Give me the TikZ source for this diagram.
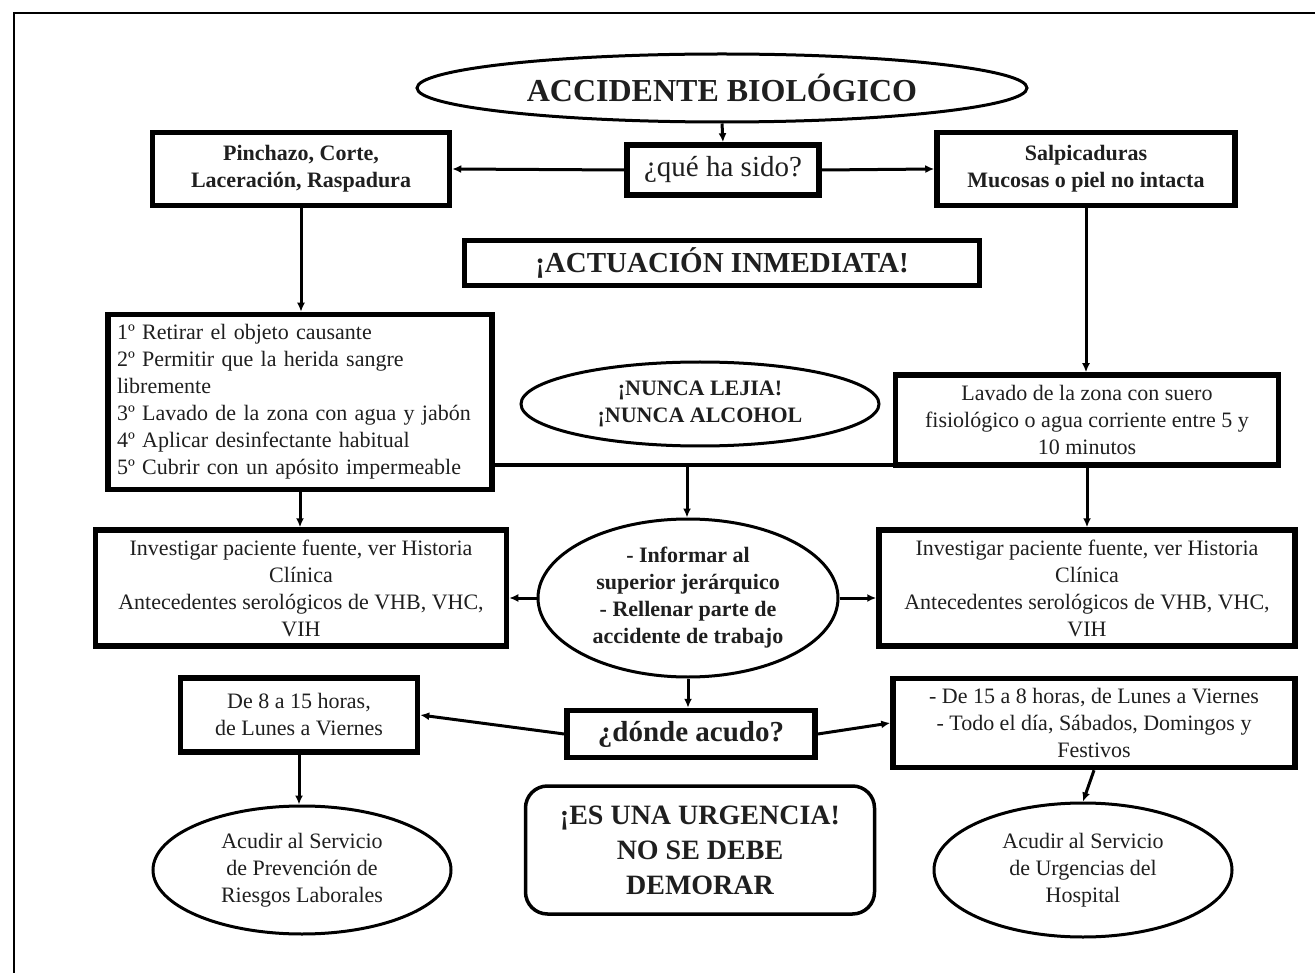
\documentclass[tikz,border=0pt]{standalone}
\usepackage{fontspec}
\setmainfont{Liberation Serif}
\usetikzlibrary{shapes.geometric,arrows.meta}
\begin{document}
\begin{tikzpicture}[x=1pt,y=-1pt,
  txt/.style={font=\fontsize{22}{27}\selectfont, align=center, text=black!88},
  thickbox/.style={draw, line width=5.5pt, rectangle, inner sep=0pt, txt},
  oval/.style={draw, line width=3pt, ellipse, inner sep=0pt, txt},
  conn/.style={line width=3.5pt},
  arr/.style={line width=3pt, -{Latex[length=9pt,width=8pt]}},
  boldtxt/.style={font=\bfseries\fontsize{22}{27}\selectfont},
]
\useasboundingbox (0,0) rectangle (1315,973);
\fill[white] (0,0) rectangle (1315,973);
% page frame
\draw[line width=2.5pt] (14,973) -- (14,13) -- (1315,13);

% top
\node[oval, minimum width=610, minimum height=68, font=\bfseries\fontsize{32}{36}\selectfont] (acc) at (722,88) {ACCIDENTE BIOLÓGICO};
\node[thickbox, minimum width=192, minimum height=50, font=\fontsize{29}{32}\selectfont] (que) at (723,170) {¿qué ha sido?};
\node[thickbox, boldtxt, minimum width=297, minimum height=73] (pin) at (301,169) {Pinchazo, Corte,\\Laceración, Raspadura};
\node[thickbox, boldtxt, minimum width=298, minimum height=73] (sal) at (1086,169) {Salpicaduras\\Mucosas o piel no intacta};
\node[thickbox, minimum width=515, minimum height=45, font=\bfseries\fontsize{29}{32}\selectfont] (act) at (722,263) {¡ACTUACIÓN INMEDIATA!};

% immediate actions
\node[thickbox, minimum width=384, minimum height=175, align=left, text width=366] (lst) at (300,402) {1º Retirar el objeto causante\\2º Permitir que la herida sangre\\libremente\\3º Lavado de la zona con agua y jabón\\4º Aplicar desinfectante habitual\\5º Cubrir con un apósito impermeable};
\node[thickbox, minimum width=383, minimum height=90] (lav) at (1087,420) {Lavado de la zona con suero\\fisiológico o agua corriente entre 5 y\\10 minutos};
\node[oval, boldtxt, minimum width=358, minimum height=84] (nun) at (700,404) {¡NUNCA LEJIA!\\¡NUNCA ALCOHOL};

% reporting and investigation
\node[oval, boldtxt, minimum width=300, minimum height=158] (inf) at (688,598) {- Informar al\\superior jerárquico\\- Rellenar parte de\\accidente de trabajo};
\node[thickbox, minimum width=411, minimum height=116] (invl) at (301,588) {Investigar paciente fuente, ver Historia\\Clínica\\Antecedentes serológicos de VHB, VHC,\\VIH};
\node[thickbox, minimum width=416, minimum height=116] (invr) at (1087,588) {Investigar paciente fuente, ver Historia\\Clínica\\Antecedentes serológicos de VHB, VHC,\\VIH};

% where to go
\node[thickbox, minimum width=248, minimum height=47, font=\bfseries\fontsize{29}{32}\selectfont] (don) at (691,734) {¿dónde acudo?};
\node[thickbox, minimum width=237, minimum height=74] (d8) at (299,715) {De 8 a 15 horas,\\de Lunes a Viernes};
\node[thickbox, minimum width=402, minimum height=89] (d15) at (1094,723) {- De 15 a 8 horas, de Lunes a Viernes\\- Todo el día, Sábados, Domingos y\\Festivos};
\node[oval, minimum width=298, minimum height=128] (prev) at (302,870) {Acudir al Servicio\\de Prevención de\\Riesgos Laborales};
\node[oval, minimum width=298, minimum height=134] (hosp) at (1083,870) {Acudir al Servicio\\de Urgencias del\\Hospital};
\node[draw, line width=3.5pt, rounded corners=22pt, inner sep=0pt, txt, minimum width=349, minimum height=128, font=\bfseries\fontsize{28}{35}\selectfont] (urg) at (700,850) {¡ES UNA URGENCIA!\\NO SE DEBE\\DEMORAR};

% connectors
\draw[arr] (acc.south) -- (que.north);
\draw[arr] (que.west) -- (pin.east);
\draw[arr] (que.east) -- (sal.west);
\draw[arr] (pin.south) -- (pin.south |- lst.north);
\draw[arr] (sal.south) -- (sal.south |- lav.north);
\coordinate (jn) at (687,465);
\draw[conn] (jn -| lst.east) -- (jn -| lav.west);
\draw[arr] (jn) -- (jn |- inf.north);
\draw[arr] (lst.south) -- (lst.south |- invl.north);
\draw[arr] (lav.south) -- (lav.south |- invr.north);
\draw[arr] (inf.west) -- (inf.west -| invl.east);
\draw[arr] (inf.east) -- (inf.east -| invr.west);
\draw[arr] (inf.south) -- (inf.south |- don.north);
\draw[arr] (don.west) -- (d8.east);
\draw[arr] (don.east) -- (d15.west);
\draw[arr] (d8.south) -- (d8.south |- prev.north);
\draw[arr] (d15.south) -- (hosp.north);
\end{tikzpicture}
\end{document}
